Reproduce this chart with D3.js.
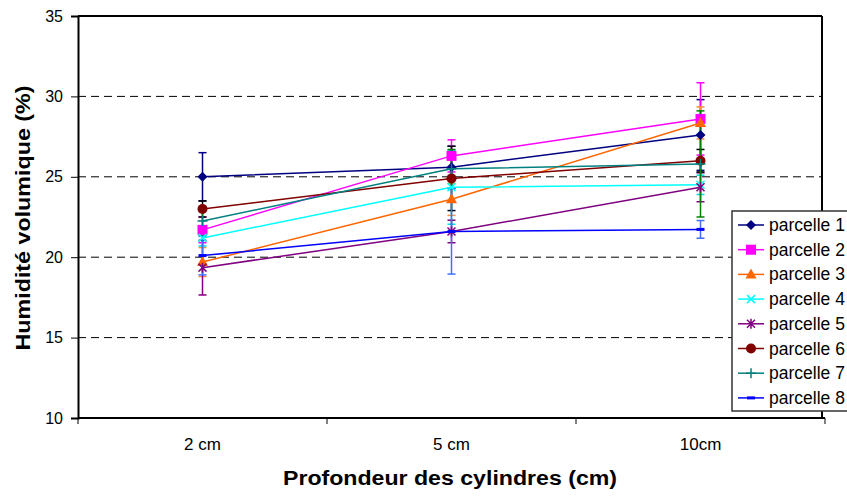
<!DOCTYPE html>
<html><head><meta charset="utf-8">
<script src="https://cdn.jsdelivr.net/npm/d3@7"></script>
<style>body{margin:0;background:#fff}svg{display:block}text{font-family:Arial,"Liberation Sans",sans-serif}</style>
</head><body><svg id="c" width="847" height="496"></svg>
<script>
const categories = ["2 cm", "5 cm", "10cm"];
const seriesNames = ["parcelle 1","parcelle 2","parcelle 3","parcelle 4","parcelle 5","parcelle 6","parcelle 7","parcelle 8"];
const p1 = [25.0, 25.6, 27.6];
const p2 = [21.7, 26.3, 28.6];
const p3 = [19.7, 23.6, 28.35];
const p4 = [21.2, 24.35, 24.5];
const p5 = [19.35, 21.6, 24.35];
const p6 = [23.0, 24.9, 26.0];
const p7 = [22.25, 25.5, 25.8];
const p8 = [20.1, 21.6, 21.73];
const e1 = [1.5, 1.3, 2.2];
const e2 = [0.8, 1.0, 2.25];
const e3 = [0.9, 1.0, 1.0];
const e4 = [0.5, 2.3, 0.6];
const e5 = [1.7, 0.7, 0.9];
const e6 = [0.5, 2.0, 0.7];
const e7 = [0.9, 1.2, 3.3];
const e8 = [1.2, 2.65, 0.55];
const yTicks = [10, 15, 20, 25, 30, 35];
const colors = ["#000080","#FF00FF","#FF6600","#00FFFF","#800080","#800000","#008080","#0000FF"];
const errColors = ["#000080","#FF00FF","#FF8C40","#00E0E0","#800080","#000000","#008000","#4070FF"];
const markers = ["diamond","square","triangle","x","star","circle","plus","dash"];
const values = [p1,p2,p3,p4,p5,p6,p7,p8];
const errs = [e1,e2,e3,e4,e5,e6,e7,e8];

const svg = d3.select("#c");
const L = 78, R = 822, T = 16, B = 418;
const x = d3.scaleBand().domain(categories).range([L, 825]);
const y = d3.scaleLinear().domain([10, 35]).range([B, T]);
const cx = c => x(c) + x.bandwidth()/2;

// gridlines
svg.append("g").selectAll("line").data(yTicks.filter(t => t > 10 && t < 35)).join("line")
  .attr("x1", L).attr("x2", R).attr("y1", d => y(d)).attr("y2", d => y(d))
  .attr("stroke", "#000").attr("stroke-width", 1).attr("stroke-dasharray", "8,5");

// plot border top/right
svg.append("line").attr("x1", L).attr("x2", R).attr("y1", T).attr("y2", T).attr("stroke", "#000").attr("stroke-width", 2);
svg.append("line").attr("x1", R).attr("x2", R).attr("y1", T).attr("y2", B).attr("stroke", "#000").attr("stroke-width", 2);

// axes
const yAxis = svg.append("g").attr("transform", `translate(${L},0)`)
  .call(d3.axisLeft(y).tickValues(yTicks).tickSize(7).tickPadding(8));
yAxis.select(".domain").attr("stroke-width", 2);
yAxis.selectAll("text").attr("font-size", 16).attr("fill", "#000");
const xAxis = svg.append("g").attr("transform", `translate(0,${B})`)
  .call(d3.axisBottom(x).tickSize(0).tickPadding(20));
xAxis.select(".domain").attr("stroke-width", 2).attr("d", `M${L},0H825`);
xAxis.selectAll("text").attr("font-size", 17).attr("fill", "#000");
// category boundary ticks
svg.append("g").selectAll("line").data([0,1,2,3]).join("line")
  .attr("x1", i => L + i * x.step()).attr("x2", i => L + i * x.step())
  .attr("y1", B).attr("y2", B + 6).attr("stroke", "#000");

// titles
svg.append("text").attr("transform", `translate(30,${(T+B)/2 + 1}) rotate(-90)`).attr("text-anchor","middle")
  .attr("font-size", 20).attr("font-weight", "bold")
  .attr("textLength", 265).attr("lengthAdjust", "spacingAndGlyphs").text("Humidité volumique (%)");
svg.append("text").attr("x", 450).attr("y", 485).attr("text-anchor","middle")
  .attr("font-size", 20).attr("font-weight", "bold")
  .attr("textLength", 334).attr("lengthAdjust", "spacingAndGlyphs").text("Profondeur des cylindres (cm)");

function drawMarker(g, type, col, px, py) {
  switch (type) {
    case "diamond": g.append("path").attr("d", `M${px},${py-5}L${px+5},${py}L${px},${py+5}L${px-5},${py}Z`).attr("fill", col); break;
    case "square": g.append("rect").attr("x", px-5).attr("y", py-5).attr("width", 10).attr("height", 10).attr("fill", col); break;
    case "triangle": g.append("path").attr("d", `M${px},${py-6}L${px+5.5},${py+4}L${px-5.5},${py+4}Z`).attr("fill", col); break;
    case "x": g.append("path").attr("d", `M${px-4},${py-4}L${px+4},${py+4}M${px-4},${py+4}L${px+4},${py-4}`).attr("stroke", col).attr("stroke-width", 1.5); break;
    case "star": g.append("path").attr("d", `M${px-4},${py-4}L${px+4},${py+4}M${px-4},${py+4}L${px+4},${py-4}M${px},${py-5}L${px},${py+5}`).attr("stroke", col).attr("stroke-width", 1.5); break;
    case "circle": g.append("circle").attr("cx", px).attr("cy", py).attr("r", 5).attr("fill", col); break;
    case "plus": g.append("path").attr("d", `M${px-5},${py}L${px+5},${py}M${px},${py-5}L${px},${py+5}`).attr("stroke", col).attr("stroke-width", 1.5); break;
    case "dash": g.append("rect").attr("x", px-4).attr("y", py-1.5).attr("width", 8).attr("height", 3).attr("fill", col); break;
  }
}

// error bars
values.forEach((vals, s) => {
  const g = svg.append("g");
  vals.forEach((v, i) => {
    const px = cx(categories[i]);
    const e = errs[s][i];
    g.append("line").attr("x1", px).attr("x2", px).attr("y1", y(v+e)).attr("y2", y(v-e)).attr("stroke", errColors[s]).attr("stroke-width", 1.5);
    [v+e, v-e].forEach(t => g.append("line").attr("x1", px-4).attr("x2", px+4).attr("y1", y(t)).attr("y2", y(t)).attr("stroke", errColors[s]).attr("stroke-width", 1.5));
  });
});
// lines & markers
values.forEach((vals, s) => {
  const g = svg.append("g");
  g.append("path").datum(vals).attr("fill", "none").attr("stroke", colors[s]).attr("stroke-width", 1.5)
    .attr("d", d3.line().x((d, i) => cx(categories[i])).y(d => y(d)));
  vals.forEach((v, i) => drawMarker(g, markers[s], colors[s], cx(categories[i]), y(v)));
});

// legend
const lg = svg.append("g");
lg.append("rect").attr("x", 732).attr("y", 211).attr("width", 120).attr("height", 200).attr("fill", "#fff").attr("stroke", "#333").attr("stroke-width", 1.5);
seriesNames.forEach((n, s) => {
  const ly = 225 + s * 24.7;
  lg.append("line").attr("x1", 738).attr("x2", 764).attr("y1", ly).attr("y2", ly).attr("stroke", colors[s]).attr("stroke-width", 1.5);
  drawMarker(lg, markers[s], colors[s], 751, ly);
  lg.append("text").attr("x", 769).attr("y", ly + 6).attr("font-size", 17.5).text(n);
});
</script></body></html>
